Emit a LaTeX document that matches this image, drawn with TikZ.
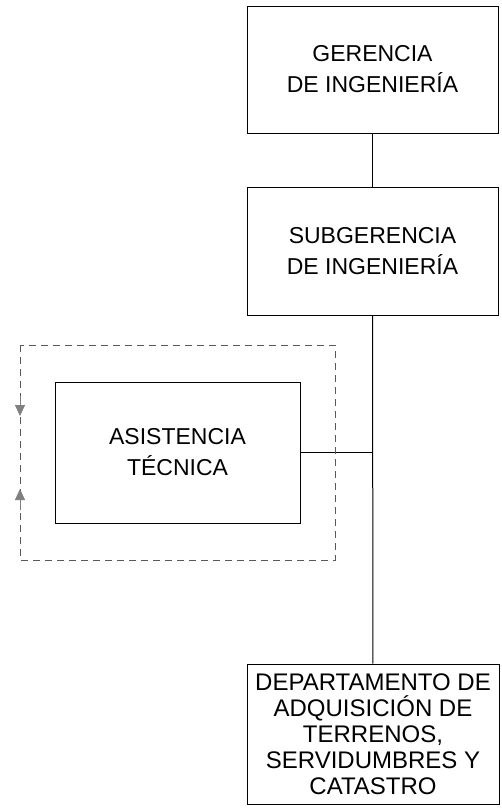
\documentclass[tikz,border=0pt]{standalone}
\usepackage{fontspec}
\setmainfont{Liberation Sans}
\usetikzlibrary{arrows.meta}

\tikzset{
    caja/.style = {draw, line width = 1pt, align = center, inner sep = 0pt,
        font = \fontsize{23}{31}\selectfont},
    enlace/.style = {line width = 1pt},
    flecha/.style = {gray, line width = 0.8pt, -{Triangle[length = 11pt, width = 10pt]}}
}

\begin{document}
\begin{tikzpicture}[x = 1pt, y = -1pt]
        \useasboundingbox (0, 0) rectangle (502, 811);
        % cajas
        \node[caja, minimum width = 251pt, minimum height = 127pt] (gerencia) at (372.5, 69.5) {GERENCIA\\DE INGENIERÍA};
        \node[caja, minimum width = 251pt, minimum height = 128pt] (subgerencia) at (372.5, 251) {SUBGERENCIA\\DE INGENIERÍA};
        \node[caja, minimum width = 245pt, minimum height = 141pt] (asistencia) at (177.5, 452.5) {ASISTENCIA\\TÉCNICA};
        \node[caja, minimum width = 252pt, minimum height = 140pt, font = \fontsize{24}{26}\selectfont] (departamento) at (373, 734) {DEPARTAMENTO DE\\ADQUISICIÓN DE\\TERRENOS,\\SERVIDUMBRES Y\\CATASTRO};
        % lineas
        \draw[enlace] (gerencia) -- (subgerencia);
        \draw[enlace] (subgerencia) -- (departamento);
        \coordinate (union) at (subgerencia.south |- asistencia.east);
        \draw[enlace] (asistencia.east) -- (union);
        % recuadro punteado
        \draw[gray!70!black, line width = 1pt, dash pattern = on 7pt off 5pt] (20, 345) rectangle (335, 560);
        \draw[flecha] (20, 396) -- (20, 416);
        \draw[flecha] (20, 510) -- (20, 489);
    \end{tikzpicture}
\end{document}
